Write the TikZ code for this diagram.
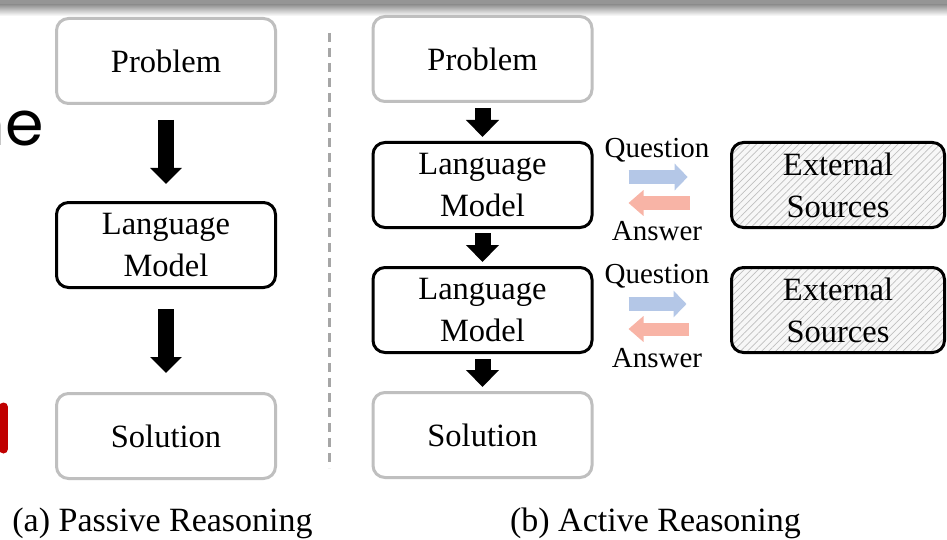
\documentclass[tikz,border=0pt]{standalone}
\usepackage{fontspec}
\setmainfont{Liberation Serif}
\newfontfamily\handfont{Poppins}
\usetikzlibrary{arrows.meta,patterns.meta}
\definecolor{boxgray}{HTML}{BFBFBF}
\definecolor{qblue}{HTML}{B4C7E7}
\definecolor{ared}{HTML}{F8B4A6}
\definecolor{darkred}{HTML}{C00000}
\definecolor{dashgray}{HTML}{A6A6A6}
\definecolor{topgray}{HTML}{959595}
\begin{document}
\begin{tikzpicture}[x=1pt,y=-1pt,
  base/.style={rounded corners=12pt, line width=3pt, minimum width=219pt, minimum height=85pt,
    align=center, font=\fontsize{32.5}{42}\selectfont, inner sep=0pt, fill=white},
  graybox/.style={base, draw=boxgray},
  blackbox/.style={base, draw=black},
  extbox/.style={base, draw=black, minimum width=213pt, fill=none,
    preaction={fill=gray!6},
    pattern={Lines[angle=45,distance=5pt,line width=0.7pt]}, pattern color=gray!50},
  bigarrow/.style={draw=black, line width=16pt, -{Triangle[length=16pt,width=31pt]}},
  smallarrow/.style={draw=black, line width=16pt, -{Triangle[length=17pt,width=32pt]}},
  qarrow/.style={draw=qblue, line width=14pt, -{Triangle[length=13pt,width=26pt]}},
  aarrow/.style={draw=ared, line width=13pt, -{Triangle[length=15pt,width=25pt]}},
  qalabel/.style={font=\fontsize{29}{34}\selectfont, inner sep=0pt},
  caption/.style={font=\fontsize{34}{38}\selectfont, inner sep=0pt},
]
\useasboundingbox[fill=white] (0,0) rectangle (947,540);
\fill[topgray] (0,0) rectangle (947,5);
\shade[top color=topgray, bottom color=white] (0,5) rectangle (947,16);

% stray slide fragments
\node[anchor=base east, font=\handfont\fontsize{62}{62}\selectfont, inner sep=0pt] (frag) at (44,146) {ne};
\draw[darkred, line width=9pt, line cap=round] (3.5,407) -- (3.5,449);

% (a) passive
\node[graybox] (pa) at (166,61) {Problem};
\node[blackbox] (lma) at (166,245) {Language\\Model};
\node[graybox] (sa) at (166,436) {Solution};
\draw[bigarrow, shorten <=15pt, shorten >=17pt] (pa) -- (lma);
\draw[bigarrow, shorten <=20pt, shorten >=19pt] (lma) -- (sa);
\node[caption] (capa) at (162.5,523) {(a) Passive Reasoning};

% divider
\draw[dashgray, line width=3pt, dash pattern=on 9pt off 6pt] (329,33) -- (329,468);

% (b) active
\node[graybox] (pb) at (482.5,59) {Problem};
\node[blackbox] (lm1) at (482.5,185) {Language\\Model};
\node[blackbox] (lm2) at (482.5,310) {Language\\Model};
\node[graybox] (sb) at (482.5,435) {Solution};
\draw[smallarrow, shorten <=5pt, shorten >=4pt] (pb) -- (lm1);
\draw[smallarrow, shorten <=4pt, shorten >=4pt] (lm1) -- (lm2);
\draw[smallarrow, shorten <=5pt, shorten >=4pt] (lm2) -- (sb);

\node[extbox] (ex1) at (838,185) {External\\Sources};
\node[extbox] (ex2) at (838,310) {External\\Sources};

\node[qalabel] (q1) at (657,150) {Question};
\node[qalabel] (a1) at (657,231) {Answer};
\node[qalabel] (q2) at (657,276) {Question};
\node[qalabel] (a2) at (657,358) {Answer};

\draw[qarrow, shorten <=35pt, shorten >=43.5pt] ([yshift=8pt]lm1.east) -- ([yshift=8pt]ex1.west);
\draw[aarrow, shorten <=41.5pt, shorten >=35pt] ([yshift=-18pt]ex1.west) -- ([yshift=-18pt]lm1.east);
\draw[qarrow, shorten <=35pt, shorten >=43.5pt] ([yshift=6pt]lm2.east) -- ([yshift=6pt]ex2.west);
\draw[aarrow, shorten <=41.5pt, shorten >=35pt] ([yshift=-19pt]ex2.west) -- ([yshift=-19pt]lm2.east);

\node[caption] (capb) at (655.5,523) {(b) Active Reasoning};
\end{tikzpicture}
\end{document}
